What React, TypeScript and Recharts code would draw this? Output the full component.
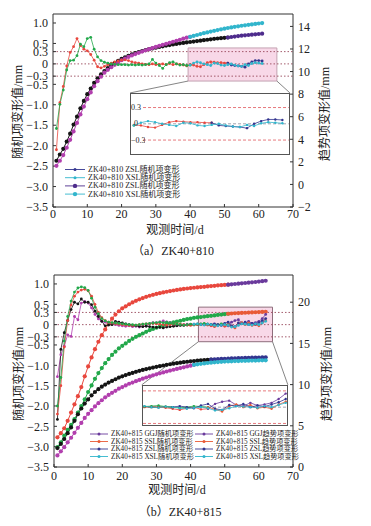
import { ComposedChart, Line, XAxis, YAxis, ReferenceLine, ReferenceArea } from 'recharts'

// ---- (a) ZK40+810, days 1..61 ----
const aZslRandStart = 1
const aZslRand = [-2.1, -0.95, -0.55, -0.05, 0.28, 0.42, 0.62, 0.45, 0.36, 0.32, 0.23, 0.09, -0.07, -0.1, -0.06, -0.02, 0.02, 0.05, 0.07, 0.09, 0.1, 0.08, 0.05, 0.03, 0.02, 0.0, -0.01, -0.02, 0.0, -0.02, -0.01, 0.0, -0.02, 0.01, -0.02, 0.0, -0.01, -0.03, -0.05, -0.02, -0.03, -0.06, -0.07, -0.02, 0.03, 0.05, 0.04, 0.03, 0.03, 0.02, 0.02]
const aZslRandPredStart = 51
const aZslRandPred = [0.02, -0.03, -0.04, -0.05, -0.06, -0.08, 0.0, 0.05, 0.08, 0.08, 0.07]
const aXslRandStart = 1
const aXslRand = [-1.58, -0.99, -0.64, -0.15, 0.08, 0.09, 0.2, 0.48, 0.42, 0.62, 0.65, 0.36, 0.17, 0.08, 0.04, 0.02, 0.0, -0.01, -0.02, -0.02, -0.02, -0.03, -0.02, -0.03, -0.02, -0.03, -0.02, 0.0, 0.11, 0.02, -0.04, -0.11, -0.02, 0.03, 0.05, 0.0, -0.03, -0.02, -0.04, -0.03]
const aXslRandPredStart = 40
const aXslRandPred = [-0.03, 0.02, 0.05, 0.03, 0.0, -0.02, -0.04, 0.02, 0.01, -0.03, -0.04, -0.02, 0.0, -0.03, -0.05, -0.06, -0.02, -0.04, 0.01, 0.03, 0.02, 0.01]
const aZslTrendStart = 1
const aZslTrend = [2.1, 2.65, 3.15, 3.8, 4.5, 5.3, 6.0, 6.75, 7.4, 8.0, 8.5, 9.0, 9.4, 9.75, 10.05, 10.3, 10.55, 10.75, 10.95, 11.12, 11.27, 11.4, 11.52, 11.63, 11.73, 11.82, 11.9, 11.98, 12.05, 12.12, 12.18, 12.24, 12.3, 12.35, 12.4, 12.45, 12.5, 12.54, 12.58, 12.62, 12.66, 12.7, 12.74, 12.78, 12.82, 12.86, 12.9, 12.93, 12.96, 12.99, 13.02]
const aZslTrendPredStart = 51
const aZslTrendPred = [13.02, 13.06, 13.1, 13.14, 13.18, 13.21, 13.24, 13.27, 13.3, 13.33, 13.36]
const aXslTrendStart = 1
const aXslTrend = [1.65, 2.1, 2.6, 3.25, 3.95, 4.7, 5.45, 6.2, 6.9, 7.55, 8.15, 8.7, 9.15, 9.55, 9.9, 10.15, 10.38, 10.6, 10.8, 11.0, 11.15, 11.3, 11.43, 11.55, 11.66, 11.77, 11.88, 11.98, 12.08, 12.18, 12.28, 12.37, 12.46, 12.55, 12.64, 12.73, 12.82, 12.91, 13.0, 13.08]
const aXslTrendPredStart = 40
const aXslTrendPred = [13.08, 13.16, 13.24, 13.32, 13.4, 13.47, 13.54, 13.61, 13.68, 13.74, 13.8, 13.86, 13.91, 13.96, 14.01, 14.06, 14.1, 14.14, 14.18, 14.22, 14.26, 14.3]

// ---- (b) ZK40+815, days 1..62 ----
const bGgjRandStart = 1
const bGgjRand = [-2.2, -1.5, -0.55, 0.1, 0.48, 0.7, 0.8, 0.85, 0.87, 0.83, 0.7, 0.5, 0.3, 0.17, 0.1, 0.06, 0.04, 0.02, 0.01, 0.0, -0.01, -0.02, -0.02, -0.01, 0.0, 0.01, 0.02, 0.02, 0.03, 0.02, 0.01, 0.0, -0.01, 0.0, 0.01, 0.02, 0.01, 0.0, -0.01, -0.02, -0.01, 0.0, 0.01, 0.0, -0.01, -0.03, -0.05, -0.02, 0.0, -0.04, -0.03]
const bGgjRandPredStart = 51
const bGgjRandPred = [-0.03, 0.06, 0.1, 0.12, 0.04, 0.02, 0.08, 0.03, 0.05, 0.08, 0.15, 0.25]
const bSslRandStart = 1
const bSslRand = [-2.0, -1.3, -0.4, 0.2, 0.58, 0.8, 0.9, 0.93, 0.91, 0.84, 0.65, 0.43, 0.27, 0.15, 0.09, 0.06, 0.05, 0.04, 0.03, 0.02, 0.01, 0.0, 0.0, -0.01, 0.0, 0.01, 0.02, 0.03, 0.04, 0.05, 0.06, 0.05, 0.06, 0.04, 0.02, 0.01, 0.0, -0.01, 0.0, 0.01, 0.0, 0.01, 0.02, 0.03, 0.01, 0.0, -0.01, 0.0, 0.02, 0.01, 0.0]
const bSslRandPredStart = 51
const bSslRandPred = [0.0, -0.04, -0.08, 0.02, 0.05, 0.0, 0.04, -0.02, 0.0, -0.03, 0.05, 0.1]
const bZslRandStart = 1
const bZslRand = [-2.33, -0.61, -0.2, 0.1, 0.37, 0.55, 0.51, 0.63, 0.55, 0.55, 0.49, 0.33, 0.2, 0.08, -0.03, -0.01, 0.0, 0.08, 0.06, 0.04, 0.02, 0.0, -0.02, -0.03, -0.04, -0.05, -0.04, -0.05, -0.06, -0.07, -0.07, -0.08, -0.06, -0.05, -0.04, -0.03, -0.02, -0.02, -0.01, 0.0, 0.0, 0.01, 0.0, 0.0, 0.01, 0.0]
const bZslRandPredStart = 46
const bZslRandPred = [0.0, 0.02, 0.0, -0.02, 0.03, 0.06, -0.03, -0.05, 0.04, 0.02, 0.06, 0.0, 0.03, 0.01, 0.05, 0.09, 0.15]
const bXslRandStart = 1
const bXslRand = [-1.28, -0.74, -0.53, -0.25, -0.29, 0.2, 0.12, 0.53, 0.57, 0.53, 0.41, 0.25, 0.14, 0.08, 0.06, 0.05, 0.02, 0.0, -0.02, -0.03, -0.04, -0.03, -0.05, -0.04, -0.06, -0.04, -0.03, 0.02, 0.05, 0.04, 0.07, 0.09, 0.07, 0.05, 0.0, -0.02, -0.01, 0.0, 0.01, 0.0, 0.01]
const bXslRandPredStart = 41
const bXslRandPred = [0.01, 0.02, 0.0, -0.01, 0.01, 0.0, -0.02, -0.03, -0.01, 0.0, -0.02, -0.06, -0.05, -0.02, 0.02, 0.01, 0.0, -0.01, 0.02, 0.0, 0.04, 0.08]

const bGgjTrendStart = 1
const bGgjTrend = [3.6, 4.1, 4.7, 5.6, 6.6, 7.6, 8.6, 9.7, 11.0, 12.2, 13.3, 14.3, 15.2, 16.0, 16.7, 17.4, 18.0, 18.5, 18.9, 19.25, 19.5, 19.75, 19.97, 20.17, 20.35, 20.5, 20.65, 20.78, 20.9, 21.0, 21.1, 21.19, 21.27, 21.35, 21.42, 21.49, 21.55, 21.61, 21.66, 21.71, 21.75, 21.79, 21.83, 21.87, 21.91, 21.95, 21.99, 22.03, 22.07, 22.1, 22.13]
const bGgjTrendPredStart = 51
const bGgjTrendPred = [22.13, 22.17, 22.21, 22.25, 22.29, 22.33, 22.37, 22.41, 22.45, 22.5, 22.55, 22.6]
const bSslTrendStart = 1
const bSslTrend = [2.4, 3.0, 3.8, 4.5, 5.1, 5.8, 6.6, 7.4, 8.2, 9.1, 9.9, 10.7, 11.4, 12.0, 12.6, 13.1, 13.6, 14.0, 14.4, 14.7, 15.0, 15.3, 15.55, 15.8, 16.0, 16.2, 16.4, 16.6, 16.75, 16.9, 17.05, 17.2, 17.3, 17.45, 17.55, 17.65, 17.75, 17.85, 17.95, 18.0, 18.1, 18.15, 18.2, 18.25, 18.3, 18.35, 18.4, 18.45, 18.5, 18.55, 18.6]
const bSslTrendPredStart = 51
const bSslTrendPred = [18.6, 18.63, 18.66, 18.68, 18.7, 18.72, 18.74, 18.76, 18.78, 18.8, 18.82, 18.84]
const bZslTrendStart = 1
const bZslTrend = [2.3, 2.8, 3.4, 4.1, 4.8, 5.6, 6.4, 7.1, 7.7, 8.2, 8.7, 9.1, 9.45, 9.75, 10.0, 10.25, 10.45, 10.65, 10.85, 11.0, 11.15, 11.3, 11.42, 11.55, 11.67, 11.78, 11.88, 11.98, 12.07, 12.16, 12.24, 12.32, 12.4, 12.47, 12.54, 12.6, 12.66, 12.72, 12.77, 12.82, 12.86, 12.9, 12.94, 12.97, 13.0, 13.03]
const bZslTrendPredStart = 46
const bZslTrendPred = [13.03, 13.06, 13.09, 13.11, 13.13, 13.15, 13.17, 13.19, 13.21, 13.23, 13.24, 13.26, 13.27, 13.28, 13.29, 13.3, 13.31]
const bXslTrendStart = 1
const bXslTrend = [1.4, 1.9, 2.4, 3.0, 3.55, 4.15, 4.75, 5.35, 5.95, 6.45, 6.9, 7.35, 7.75, 8.1, 8.45, 8.75, 9.0, 9.25, 9.5, 9.7, 9.9, 10.1, 10.25, 10.42, 10.57, 10.72, 10.86, 11.0, 11.12, 11.25, 11.37, 11.48, 11.59, 11.7, 11.8, 11.9, 12.0, 12.1, 12.2, 12.3, 12.4]
const bXslTrendPredStart = 41
const bXslTrendPred = [12.4, 12.46, 12.52, 12.57, 12.62, 12.66, 12.7, 12.73, 12.76, 12.79, 12.81, 12.83, 12.85, 12.86, 12.88, 12.89, 12.9, 12.91, 12.92, 12.93, 12.94, 12.95]

const xTicks = [0, 10, 20, 30, 40, 50, 60, 70]
const leftTicks = [-3.5, -3, -2.5, -2, -1.5, -1, -0.5, -0.3, 0, 0.3, 0.5, 1]
const rightTicksA = [-2, 0, 2, 4, 6, 8, 10, 12, 14]
const rightTicksB = [0, 5, 10, 15, 20]
const guideLevels = [0.3, 0, -0.3]

const RED = '#e8473d'
const GREEN = '#22a84a'
const BLACK = '#151515'
const MAGENTA = '#b23fae'
const PURPLE = '#4e2c8c'
const NAVY = '#33358f'
const CYAN = '#31b5cc'
const ORANGE = '#e85a36'
const VIOLET = '#6a3a9c'

const LATIN = "'Liberation Serif', serif"
const CJK = "'Noto Sans CJK SC', sans-serif"
const SERIF = "'Liberation Serif', 'Noto Sans CJK SC', serif"
const W = 371
const CH = 240
const XH = 33

type Seg = { key: string; start: number; values: number[]; axis: 'L' | 'R'; color: string }

function buildRows(lastDay: number, segs: Seg[]) {
  const rows: Record<string, number>[] = []
  for (let t = 1; t <= lastDay; t++) {
    const row: Record<string, number> = { t }
    segs.forEach((s) => {
      const v = s.values[t - s.start]
      if (t >= s.start && v !== undefined) row[s.key] = v
    })
    rows.push(row)
  }
  return rows
}

const segsA: Seg[] = [
  { key: 'zslT', start: aZslTrendStart, values: aZslTrend, axis: 'R', color: BLACK },
  { key: 'zslTP', start: aZslTrendPredStart, values: aZslTrendPred, axis: 'R', color: PURPLE },
  { key: 'xslT', start: aXslTrendStart, values: aXslTrend, axis: 'R', color: MAGENTA },
  { key: 'xslTP', start: aXslTrendPredStart, values: aXslTrendPred, axis: 'R', color: CYAN },
  { key: 'zslR', start: aZslRandStart, values: aZslRand, axis: 'L', color: RED },
  { key: 'zslRP', start: aZslRandPredStart, values: aZslRandPred, axis: 'L', color: NAVY },
  { key: 'xslR', start: aXslRandStart, values: aXslRand, axis: 'L', color: GREEN },
  { key: 'xslRP', start: aXslRandPredStart, values: aXslRandPred, axis: 'L', color: CYAN },
]

const segsB: Seg[] = [
  { key: 'ggjT', start: bGgjTrendStart, values: bGgjTrend, axis: 'R', color: RED },
  { key: 'ggjTP', start: bGgjTrendPredStart, values: bGgjTrendPred, axis: 'R', color: VIOLET },
  { key: 'sslT', start: bSslTrendStart, values: bSslTrend, axis: 'R', color: GREEN },
  { key: 'sslTP', start: bSslTrendPredStart, values: bSslTrendPred, axis: 'R', color: ORANGE },
  { key: 'zslT', start: bZslTrendStart, values: bZslTrend, axis: 'R', color: BLACK },
  { key: 'zslTP', start: bZslTrendPredStart, values: bZslTrendPred, axis: 'R', color: NAVY },
  { key: 'xslT', start: bXslTrendStart, values: bXslTrend, axis: 'R', color: MAGENTA },
  { key: 'xslTP', start: bXslTrendPredStart, values: bXslTrendPred, axis: 'R', color: CYAN },
  { key: 'xslR', start: bXslRandStart, values: bXslRand, axis: 'L', color: MAGENTA },
  { key: 'zslR', start: bZslRandStart, values: bZslRand, axis: 'L', color: BLACK },
  { key: 'ggjR', start: bGgjRandStart, values: bGgjRand, axis: 'L', color: RED },
  { key: 'sslR', start: bSslRandStart, values: bSslRand, axis: 'L', color: GREEN },
  { key: 'ggjRP', start: bGgjRandPredStart, values: bGgjRandPred, axis: 'L', color: VIOLET },
  { key: 'sslRP', start: bSslRandPredStart, values: bSslRandPred, axis: 'L', color: ORANGE },
  { key: 'zslRP', start: bZslRandPredStart, values: bZslRandPred, axis: 'L', color: NAVY },
  { key: 'xslRP', start: bXslRandPredStart, values: bXslRandPred, axis: 'L', color: CYAN },
]

const rowsA = buildRows(61, segsA)
const rowsB = buildRows(62, segsB)

const fmtLeft = (v: number) => (v === 0 ? '0' : (v < 0 ? '\u2212' : '') + Math.abs(v).toFixed(1))
const fmtRight = (v: number) => (v < 0 ? '\u2212' + Math.abs(v) : String(v))

type Panel = {
  top: number
  plotLeft: number
  rightW: number
  marginTop: number
  leftDomain: [number, number]
  rightDomain: [number, number]
  rightTicks: number[]
  pink: { x1: number; x2: number; y1: number; y2: number }
  inset: { t0: number; t1: number; v0: number; v1: number }
  xTickMargin: number
  pinkStroke: string
}

const panelA: Panel = {
  top: 0,
  plotLeft: 53,
  rightW: 78,
  marginTop: 14,
  leftDomain: [-3.5, 1.22],
  rightDomain: [-2, 15.1],
  rightTicks: rightTicksA,
  pink: { x1: 39.4, x2: 65.3, y1: -0.42, y2: 0.39 },
  inset: { t0: 22.5, t1: 69.1, v0: -0.71, v1: -2.23 },
  xTickMargin: 5,
  pinkStroke: '#c4a2b2',
}

const panelB: Panel = {
  top: 260,
  plotLeft: 54,
  rightW: 78,
  marginTop: 15,
  leftDomain: [-3.5, 1.22],
  rightDomain: [0, 23.3],
  rightTicks: rightTicksB,
  pink: { x1: 42.3, x2: 64, y1: -0.42, y2: 0.43 },
  inset: { t0: 25.7, t1: 68.5, v0: -1.48, v1: -2.49 },
  xTickMargin: 7,
  pinkStroke: '#8e6e7c',
}

function toPage(p: Panel, t: number, v: number) {
  const plotW = W - p.plotLeft - p.rightW
  const plotH = CH - p.marginTop - XH
  const [lo, hi] = p.leftDomain
  return {
    x: p.plotLeft + (t / 70) * plotW,
    y: p.top + p.marginTop + ((hi - v) / (hi - lo)) * plotH,
  }
}

const tickStyle = { fontSize: 12, fill: '#222', fontFamily: LATIN }

function MainChart({ p, rows, segs }: { p: Panel; rows: Record<string, number>[]; segs: Seg[] }) {
  const { pink, inset } = p
  return (
    <div style={{ position: 'absolute', left: 0, top: p.top }}>
      <ComposedChart width={W} height={CH} data={rows} margin={{ top: p.marginTop, right: 0, bottom: 0, left: 0 }}>
        <XAxis
          dataKey="t"
          type="number"
          domain={[0, 70]}
          ticks={xTicks}
          interval={0}
          height={XH}
          tickSize={-3}
          tickMargin={p.xTickMargin}
          tick={tickStyle}
          stroke="#333"
        />
        <YAxis
          yAxisId="L"
          orientation="left"
          width={p.plotLeft}
          domain={p.leftDomain}
          ticks={leftTicks}
          interval={0}
          allowDataOverflow
          tickFormatter={fmtLeft}
          tickSize={-3}
          tickMargin={8}
          tick={tickStyle}
          stroke="#333"
        />
        <YAxis
          yAxisId="R"
          orientation="right"
          width={p.rightW}
          domain={p.rightDomain}
          ticks={p.rightTicks}
          interval={0}
          allowDataOverflow
          tickFormatter={fmtRight}
          tickSize={-3}
          tickMargin={8}
          tick={tickStyle}
          stroke="#333"
        />
        <ReferenceArea
          yAxisId="L"
          x1={pink.x1}
          x2={pink.x2}
          y1={pink.y1}
          y2={pink.y2}
          fill="#f8d8e8"
          fillOpacity={1}
          stroke={p.pinkStroke}
          strokeWidth={1}
        />
        <ReferenceLine yAxisId="L" y={p.leftDomain[1]} stroke="#333" />
        {guideLevels.map((g) => (
          <ReferenceLine key={g} yAxisId="L" y={g} stroke="#9a4a5c" strokeDasharray="1.5 2" strokeWidth={0.9} />
        ))}
        <ReferenceLine
          yAxisId="L"
          ifOverflow="visible"
          segment={[
            { x: pink.x1, y: pink.y1 },
            { x: inset.t0, y: inset.v0 },
          ]}
          stroke="#666"
          strokeWidth={0.8}
        />
        <ReferenceLine
          yAxisId="L"
          ifOverflow="visible"
          segment={[
            { x: pink.x2, y: pink.y1 },
            { x: inset.t1, y: inset.v0 },
          ]}
          stroke="#666"
          strokeWidth={0.8}
        />
        {segs.map((s) => (
          <Line
            key={s.key}
            yAxisId={s.axis}
            dataKey={s.key}
            stroke={s.color}
            strokeWidth={s.axis === 'R' ? 1 : 0.8}
            dot={{ r: s.axis === 'R' ? 2.1 : 1.4, fill: s.color, stroke: 'none' }}
            isAnimationActive={false}
          />
        ))}
      </ComposedChart>
    </div>
  )
}

function Inset({
  p,
  rows,
  segs,
  domainX,
  domainY,
  labels,
  lineStart,
}: {
  p: Panel
  rows: Record<string, number>[]
  segs: Seg[]
  domainX: [number, number]
  domainY: [number, number]
  labels: boolean
  lineStart: number
}) {
  const tl = toPage(p, p.inset.t0, p.inset.v0)
  const br = toPage(p, p.inset.t1, p.inset.v1)
  const w = br.x - tl.x - 2
  const h = br.y - tl.y - 2
  const data = rows.filter((r) => r.t >= domainX[0] && r.t <= domainX[1])
  const yOf = (v: number) => ((domainY[1] - v) / (domainY[1] - domainY[0])) * h
  return (
    <div
      style={{
        position: 'absolute',
        left: tl.x,
        top: tl.y,
        width: w,
        height: h,
        border: '1px solid #555',
        background: '#fff',
      }}
    >
      <ComposedChart width={w} height={h} data={data} margin={{ top: 0, right: 0, bottom: 0, left: 0 }}>
        <XAxis dataKey="t" type="number" domain={domainX} allowDataOverflow hide />
        <YAxis yAxisId="L" width={0} domain={domainY} allowDataOverflow hide />
        {guideLevels.map((g) => (
          <ReferenceLine
            key={g}
            yAxisId="L"
            segment={[
              { x: lineStart, y: g },
              { x: domainX[1], y: g },
            ]}
            stroke={g === 0 ? '#8a8a9a' : '#e0575c'}
            strokeDasharray="3 2"
            strokeWidth={0.8}
          />
        ))}
        {segs
          .filter((s) => s.axis === 'L')
          .map((s) => (
            <Line
              key={s.key}
              yAxisId="L"
              dataKey={s.key}
              stroke={s.color}
              strokeWidth={0.8}
              dot={{ r: 1.2, fill: s.color, stroke: 'none' }}
              isAnimationActive={false}
            />
          ))}
      </ComposedChart>
      {labels && (
        <svg width={14} height={h} style={{ position: 'absolute', left: 0, top: 0 }}>
          {guideLevels.map((g) => (
            <text
              key={g}
              x={g === 0 ? 3 : 0}
              y={yOf(g)}
              dominantBaseline="central"
              fontSize={8}
              fill="#222"
              fontFamily={LATIN}
            >
              {fmtLeft(g)}
            </text>
          ))}
        </svg>
      )}
    </div>
  )
}

type LegendItem = { label: string; color: string; big: boolean }

const legendA: LegendItem[] = [
  { label: 'ZK40+810 ZSL随机项变形', color: NAVY, big: false },
  { label: 'ZK40+810 XSL随机项变形', color: CYAN, big: false },
  { label: 'ZK40+810 ZSL随机项变形', color: PURPLE, big: true },
  { label: 'ZK40+810 XSL随机项变形', color: CYAN, big: true },
]

const legendB: LegendItem[] = [
  { label: 'ZK40+815 GGJ随机项变形', color: VIOLET, big: false },
  { label: 'ZK40+815 SSL随机项变形', color: ORANGE, big: false },
  { label: 'ZK40+815 ZSL随机项变形', color: NAVY, big: false },
  { label: 'ZK40+815 XSL随机项变形', color: CYAN, big: false },
  { label: 'ZK40+815 GGJ趋势项变形', color: VIOLET, big: false },
  { label: 'ZK40+815 SSL趋势项变形', color: ORANGE, big: false },
  { label: 'ZK40+815 ZSL趋势项变形', color: NAVY, big: false },
  { label: 'ZK40+815 XSL趋势项变形', color: CYAN, big: false },
]

function LegendRow({ item, x, y, len, size }: { item: LegendItem; x: number; y: number; len: number; size: number }) {
  return (
    <g>
      <line x1={x} x2={x + len} y1={y} y2={y} stroke={item.color} strokeWidth={0.9} />
      <circle cx={x + len / 2} cy={y} r={item.big ? 2.2 : 1.5} fill={item.color} />
      <text x={x + len + 3} y={y} dominantBaseline="central" fontSize={size} fill="#222" fontFamily={SERIF}>
        {item.label}
      </text>
    </g>
  )
}

function Title({ x, y, text, rotate }: { x: number; y: number; text: string; rotate?: boolean }) {
  return (
    <text
      transform={`translate(${x},${y})${rotate ? ' rotate(-90)' : ''}`}
      textAnchor="middle"
      dominantBaseline="central"
      fontSize={12}
      fill="#222"
      fontFamily={SERIF}
    >
      {text}
    </text>
  )
}

function Overlay() {
  return (
    <svg width={W} height={526} style={{ position: 'absolute', left: 0, top: 0, pointerEvents: 'none' }}>
      <Title x={18} y={112} rotate text="随机项变形值/mm" />
      <Title x={325} y={114} rotate text="趋势项变形值/mm" />
      <Title x={175} y={230} text="观测时间/d" />
      <Title x={173} y={251} text="（a）ZK40+810" />
      <Title x={19} y={374} rotate text="随机项变形值/mm" />
      <Title x={327} y={374} rotate text="趋势项变形值/mm" />
      <Title x={177} y={490} text="观测时间/d" />
      <Title x={180} y={512} text="（b）ZK40+815" />
      {legendA.map((it, i) => (
        <LegendRow key={i} item={it} x={65} y={169.5 + i * 8.2} len={20} size={8} />
      ))}
      {legendB.map((it, i) => (
        <LegendRow key={i} item={it} x={i < 4 ? 90 : 195} y={434 + (i % 4) * 7.5} len={18} size={7.2} />
      ))}
    </svg>
  )
}

export default function App() {
  return (
    <div style={{ position: 'absolute', left: 0, top: 0, width: W, height: 526, background: '#fff', fontFamily: SERIF }}>
      <MainChart p={panelA} rows={rowsA} segs={segsA} />
      <MainChart p={panelB} rows={rowsB} segs={segsB} />
      <Inset
        p={panelA}
        rows={rowsA}
        segs={segsA}
        domainX={[39.6, 61.9]}
        domainY={[-0.56, 0.55]}
        labels
        lineStart={41.3}
      />
      <Inset
        p={panelB}
        rows={rowsB}
        segs={segsB}
        domainX={[41.8, 62.2]}
        domainY={[-0.33, 0.39]}
        labels={false}
        lineStart={41.8}
      />
      <Overlay />
    </div>
  )
}
